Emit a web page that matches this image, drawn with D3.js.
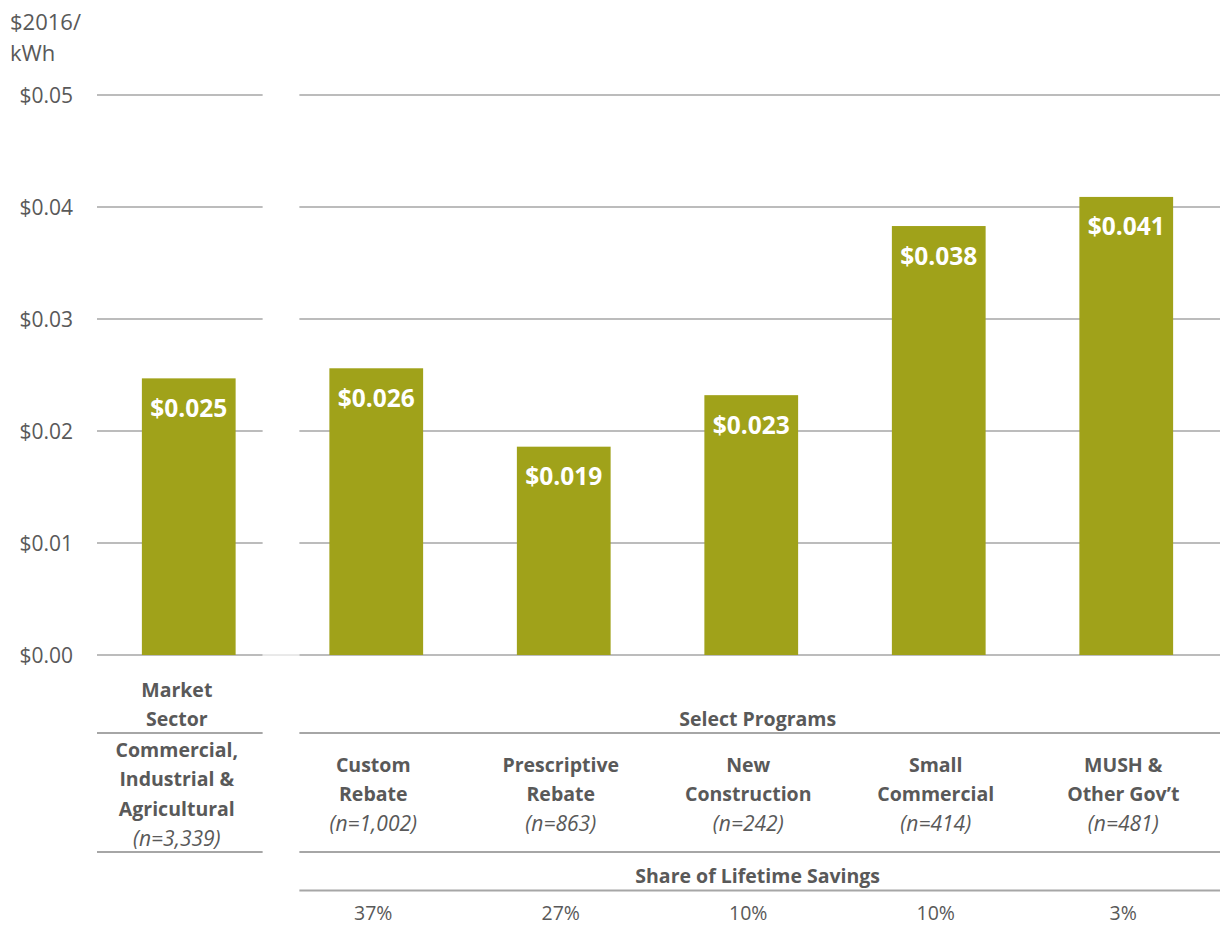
<!DOCTYPE html>
<html>
<head>
<meta charset="utf-8">
<script src="https://cdn.jsdelivr.net/npm/d3@7"></script>
<style>
  html, body { margin: 0; padding: 0; background: #fff; }
  svg { display: block; font-family: "Open Sans", Lato, sans-serif; }
</style>
</head>
<body>
<svg id="chart" width="1220" height="928"></svg>
<script>
// Levelized cost of saved energy, $2016 per kWh
const categories = ["sector", "custom", "prescriptive", "newcon", "smallcom", "mush"];
const costValues = [0.0247, 0.0256, 0.0186, 0.0232, 0.0383, 0.0409];
const labelLines = [
  ["Commercial,", "Industrial &", "Agricultural"],
  ["Custom", "Rebate"],
  ["Prescriptive", "Rebate"],
  ["New", "Construction"],
  ["Small", "Commercial"],
  ["MUSH &", "Other Gov\u2019t"]
];
const sampleSizes = ["(n=3,339)", "(n=1,002)", "(n=863)", "(n=242)", "(n=414)", "(n=481)"];
const savingsShare = [null, "37%", "27%", "10%", "10%", "3%"];
const yTicks = [0, 0.01, 0.02, 0.03, 0.04, 0.05];

const W = 1220, H = 928;
const barColor = "#A0A21A";
const textColor = "#595959";
const ruleColor = "#A6A6A6";
const tableFont = "19.5px";

const svg = d3.select("#chart");

const x = d3.scaleBand()
  .domain(categories)
  .range([95, 1220])
  .paddingInner(0.5)
  .paddingOuter(0.25);

const y = d3.scaleLinear().domain([0, 0.05]).range([655, 95]);

// Panel extents: the sector bar stands apart from the program bars
const leftPanel = [97, x(categories[0]) + x.bandwidth() + 27];
const rightPanel = [x(categories[1]) - 30, W];
const leftMid = (leftPanel[0] + leftPanel[1]) / 2 - 3;
const rightMid = (rightPanel[0] + rightPanel[1]) / 2 - 2;

// Gridlines, broken between the two panels
const grid = svg.append("g");
yTicks.forEach(t => {
  [leftPanel, rightPanel].forEach(p => {
    grid.append("line")
      .attr("x1", p[0]).attr("x2", p[1])
      .attr("y1", y(t)).attr("y2", y(t))
      .attr("stroke", ruleColor).attr("stroke-width", 1.5);
  });
});
// faint baseline bridging the gap
grid.append("line")
  .attr("x1", leftPanel[1]).attr("x2", rightPanel[0])
  .attr("y1", y(0)).attr("y2", y(0))
  .attr("stroke", "#D4D4D4").attr("stroke-width", 1);

// Y axis labels
const yAxis = d3.axisLeft(y).tickValues(yTicks).tickSize(0).tickPadding(0)
  .tickFormat(d => "$" + d3.format(".2f")(d));
const yg = svg.append("g").attr("transform", "translate(73,0)").call(yAxis);
yg.select(".domain").remove();
yg.selectAll("text")
  .attr("fill", textColor)
  .style("font-family", "'Open Sans', sans-serif")
  .style("font-size", "21px")
  .attr("dy", "0.35em");

svg.append("text").attr("x", 10).attr("y", 30)
  .attr("fill", textColor).style("font-size", "22px").text("$2016/");
svg.append("text").attr("x", 10).attr("y", 61)
  .attr("fill", textColor).style("font-size", "22px").text("kWh");

// Bars
const data = categories.map((c, i) => ({ c, v: costValues[i] }));
svg.append("g").selectAll("rect").data(data).join("rect")
  .attr("x", d => x(d.c))
  .attr("width", x.bandwidth())
  .attr("y", d => y(d.v))
  .attr("height", d => y(0) - y(d.v))
  .attr("fill", barColor);

// Value labels inside bars
svg.append("g").selectAll("text").data(data).join("text")
  .attr("x", d => x(d.c) + x.bandwidth() / 2)
  .attr("y", d => y(d.v) + 30)
  .attr("dy", "0.35em")
  .attr("text-anchor", "middle")
  .attr("fill", "#fff")
  .style("font-weight", "bold")
  .style("font-size", "24.5px")
  .text(d => "$" + d3.format(".3f")(d.v));

// Table beneath the chart
const table = svg.append("g").attr("fill", textColor).style("font-size", tableFont);
const cx = (c, i) => i === 0 ? leftMid : x(c) + x.bandwidth() / 2 - 3;
const lineH = 29.5;

function rule(p, yy) {
  svg.append("line").attr("x1", p[0]).attr("x2", p[1])
    .attr("y1", yy).attr("y2", yy)
    .attr("stroke", ruleColor).attr("stroke-width", 2);
}

// Headers
[["Market", 690], ["Sector", 719.5]].forEach(([t, yy]) => {
  table.append("text").attr("x", leftMid).attr("y", yy).attr("dy", "0.35em")
    .attr("text-anchor", "middle").style("font-weight", "bold").text(t);
});
table.append("text").attr("x", rightMid).attr("y", 719.5)
  .attr("dy", "0.35em").attr("text-anchor", "middle").style("font-weight", "bold")
  .text("Select Programs");
rule(leftPanel, 733);
rule(rightPanel, 733);

// Category names and sample sizes
categories.forEach((c, i) => {
  const lines = labelLines[i];
  const start = i === 0 ? 750 : 765;
  lines.forEach((t, k) => {
    table.append("text").attr("x", cx(c, i)).attr("y", start + k * lineH).attr("dy", "0.35em")
      .attr("text-anchor", "middle").style("font-weight", "bold").text(t);
  });
  table.append("text").attr("x", cx(c, i)).attr("y", start + lines.length * lineH).attr("dy", "0.35em")
    .attr("text-anchor", "middle").style("font-style", "italic").style("font-size", "21px")
    .text(sampleSizes[i]);
});
rule(leftPanel, 852);
rule(rightPanel, 852);

// Share of lifetime savings
table.append("text").attr("x", rightMid).attr("y", 876)
  .attr("dy", "0.35em").attr("text-anchor", "middle").style("font-weight", "bold")
  .text("Share of Lifetime Savings");
rule(rightPanel, 890.5);
categories.forEach((c, i) => {
  if (savingsShare[i] === null) return;
  table.append("text").attr("x", cx(c, i)).attr("y", 913).attr("dy", "0.35em")
    .attr("text-anchor", "middle").text(savingsShare[i]);
});
</script>
</body>
</html>
